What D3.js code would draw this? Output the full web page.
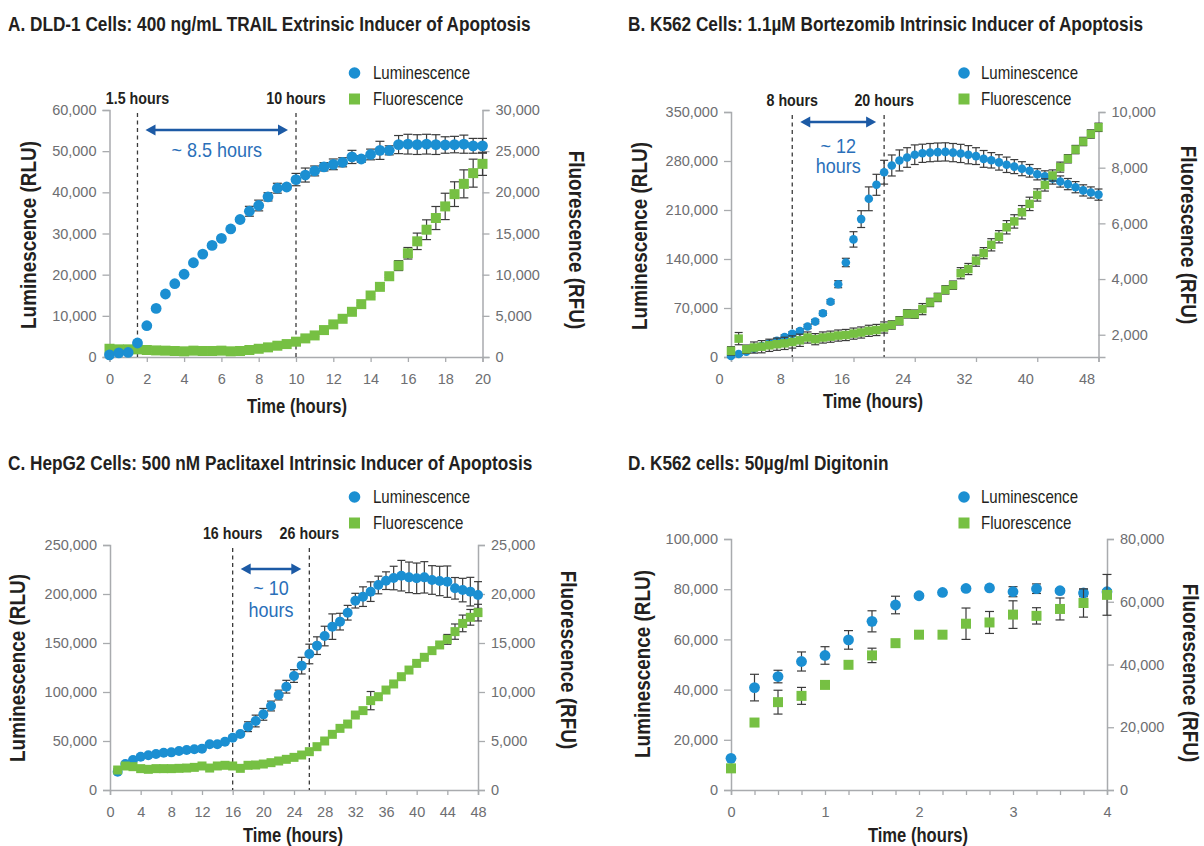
<!DOCTYPE html>
<html>
<head>
<meta charset="utf-8">
<script src="https://cdn.jsdelivr.net/npm/d3@7"></script>
<style>
  body { margin: 0; background: #fff; }
</style>
</head>
<body>
<svg id="chart" width="1204" height="846"></svg>
<script>
// ---------- Panel A: DLD-1 + TRAIL ----------
const titleA = "A. DLD-1 Cells: 400 ng/mL TRAIL Extrinsic Inducer of Apoptosis";
const timeA = [0,0.5,1,1.5,2,2.5,3,3.5,4,4.5,5,5.5,6,6.5,7,7.5,8,8.5,9,9.5,10,10.5,11,11.5,12,12.5,13,13.5,14,14.5,15,15.5,16,16.5,17,17.5,18,18.5,19,19.5,20];
const lumA = [500,1000,1100,3400,7600,11800,15300,17800,20100,22900,25000,27100,28800,31100,33400,35400,36800,38900,41000,41300,43100,44200,45200,46200,46800,47300,48600,48100,49200,50200,50200,51600,51700,51600,51700,51600,51500,51600,51700,51300,51300];
const lumErrA = [300,300,300,400,300,300,300,300,300,300,300,300,300,300,400,1200,1300,1000,1200,600,1500,1700,1200,1000,1300,1100,1600,800,1300,2200,1100,2200,2400,2400,2400,2400,2000,2000,2200,1800,1800];
const fluA = [1000,930,930,930,850,800,770,730,690,770,730,730,770,690,730,850,1000,1170,1370,1570,1860,2260,2620,3270,3960,4640,5490,6420,7470,8520,9810,11100,12600,14050,15460,16880,18290,19780,21030,22330,23460];
const fluErrA = [150,150,150,150,150,150,150,150,150,150,150,150,150,150,150,150,150,150,150,150,150,150,150,150,150,150,150,150,150,150,150,600,700,1000,1200,1400,1600,1500,1700,1700,1400];
const xTicksA = [0,2,4,6,8,10,12,14,16,18,20];
const lumTicksA = [0,10000,20000,30000,40000,50000,60000];
const fluTicksA = [0,5000,10000,15000,20000,25000,30000];
const markHoursA = [1.5,10];
const markLabelsA = ["1.5 hours","10 hours"];
const spanTextA = ["~ 8.5 hours"];

// ---------- Panel B: K562 + Bortezomib ----------
const titleB = "B. K562 Cells: 1.1µM Bortezomib Intrinsic Inducer of Apoptosis";
const timeB = [0,1,2,3,4,5,6,7,8,9,10,11,12,13,14,15,16,17,18,19,20,21,22,23,24,25,26,27,28,29,30,31,32,33,34,35,36,37,38,39,40,41,42,43,44,45,46,47,48];
const lumB = [1400,4300,7600,12000,15800,19600,23000,28600,33000,37000,43500,50600,62600,79000,104000,135000,168000,197000,226000,246000,264000,273600,280800,285000,289000,291000,292000,292700,293000,292000,290800,289000,287000,283000,281000,278000,274600,272000,269000,266000,261000,258000,255000,250700,247000,242600,238000,235000,232000];
const lumErrB = [2000,2000,2000,3000,3000,3000,3000,3000,3000,3000,3000,3000,3000,3000,5000,6000,11000,12000,17000,15000,17000,15000,15000,14000,14000,13000,13000,13000,13000,13000,13000,13000,12000,12000,11000,11000,11000,10000,10000,9000,8000,8000,8000,8000,8000,8000,8000,8000,8000];
const fluB = [1420,1860,1480,1540,1570,1620,1660,1690,1740,1800,1900,1840,1900,1930,1970,1990,2040,2080,2140,2170,2260,2350,2500,2750,2740,2920,3160,3340,3610,3780,4210,4360,4660,4930,5230,5520,5860,6070,6400,6700,7020,7380,7720,8020,8320,8650,8940,9210,9450];
const fluErrB = [150,220,150,200,220,220,220,220,220,220,200,200,200,200,200,200,200,200,200,200,200,150,150,150,150,200,150,150,150,150,200,200,200,200,220,220,240,240,240,240,220,220,200,180,150,150,150,150,150];
const xTicksB = [0,8,16,24,32,40,48];
const lumTicksB = [0,70000,140000,210000,280000,350000];
const fluTicksB = [2000,4000,6000,8000,10000];
const markHoursB = [8,20];
const markLabelsB = ["8 hours","20 hours"];
const spanTextB = ["~ 12","hours"];

// ---------- Panel C: HepG2 + Paclitaxel ----------
const titleC = "C. HepG2 Cells: 500 nM Paclitaxel Intrinsic Inducer of Apoptosis";
const timeC = [1,2,3,4,5,6,7,8,9,10,11,12,13,14,15,16,17,18,19,20,21,22,23,24,25,26,27,28,29,30,31,32,33,34,35,36,37,38,39,40,41,42,43,44,45,46,47,48];
const lumC = [18700,26500,30600,34000,35400,36700,38100,38400,39800,40800,41500,42200,46600,46600,49300,53400,57100,64600,70400,77200,85700,96900,105400,116300,126900,138800,147300,157100,166700,171800,180900,193200,197300,202400,209200,213600,216300,218700,217000,216000,217000,214300,213300,212600,205800,204000,202400,199000];
const lumErrC = [1500,1500,1500,1500,1500,1500,1500,1500,1500,1500,1500,1500,1500,1500,1500,1500,1500,5000,6000,6000,5000,5000,6500,6500,8500,10000,9000,10000,13000,8500,7500,7500,10000,10000,9000,9000,12000,15600,15600,15600,16000,14600,15000,16000,11000,12000,14600,13600];
const fluC = [2040,2450,2380,2180,2110,2180,2180,2180,2210,2240,2310,2450,2240,2450,2520,2450,2210,2520,2550,2650,2790,2960,3130,3330,3570,3910,4420,5000,5680,6290,6730,7650,8100,9120,9520,10200,10820,11560,12240,12920,13540,14220,14800,15370,16160,17000,17620,18100];
const fluErrC = [150,150,150,150,150,150,150,150,150,150,150,150,150,150,150,150,150,150,150,150,150,150,150,150,150,150,150,150,150,150,150,150,150,930,150,150,150,150,150,150,150,150,150,500,780,850,800,850];
const xTicksC = [0,4,8,12,16,20,24,28,32,36,40,44,48];
const lumTicksC = [0,50000,100000,150000,200000,250000];
const fluTicksC = [0,5000,10000,15000,20000,25000];
const markHoursC = [16,26];
const markLabelsC = ["16 hours","26 hours"];
const spanTextC = ["~ 10","hours"];

// ---------- Panel D: K562 + Digitonin ----------
const titleD = "D. K562 cells: 50µg/ml Digitonin";
const timeD = [0,0.25,0.5,0.75,1,1.25,1.5,1.75,2,2.25,2.5,2.75,3,3.25,3.5,3.75,4];
const lumD = [12600,40800,45200,51200,53600,59800,67200,73700,77400,78700,80300,80500,79000,80200,79400,78500,79000];
const lumErrD = [500,5300,2500,3800,3500,3700,4200,3500,800,800,800,800,2000,1900,800,1500,800];
const fluD = [6900,21500,28000,30000,33500,39900,42900,46800,49500,49500,53000,53400,55900,55500,57700,59600,62200];
const fluErrD = [500,800,3800,2700,800,800,2300,800,800,800,5000,3500,4400,2600,3500,4500,6500];
const xTicksD = [0,0.25,0.5,0.75,1,1.25,1.5,1.75,2,2.25,2.5,2.75,3,3.25,3.5,3.75,4];
const lumTicksD = [0,20000,40000,60000,80000,100000];
const fluTicksD = [0,20000,40000,60000,80000];

const legendLabels = ["Luminescence","Fluorescence"];
const axisTitles = {lum: "Luminescence (RLU)", flu: "Fluorescence (RFU)", time: "Time (hours)"};

// ---------- styling ----------
const SANS = '"Liberation Sans", Arial, Helvetica, sans-serif';
const BLUE = "#1b8fd2", GREEN = "#76c043", ARROW = "#1c5aa5", NOTE = "#2a6fb9";
const AXIS = "#a9abae", TICKTXT = "#6d6e71", DARK = "#231f20", ERR = "#3b3b3b";

const svg = d3.select("#chart");

// text squeezed horizontally (scale k) to give a condensed face from a regular font
function label(parent, str, x, y, o) {
  const rot = o.rotate ? ` rotate(${o.rotate})` : "";
  return parent.append("text")
    .attr("transform", `translate(${x},${y})${rot} scale(${o.k},1)`)
    .attr("text-anchor", o.anchor || "start")
    .attr("fill", o.fill || DARK)
    .style("font-family", SANS)
    .style("font-weight", o.bold ? "bold" : "normal")
    .style("font-size", o.size + "px")
    .text(str);
}

const panels = [
  { title: titleA, tx: 8, ty: 31, left: 109.5, right: 482.5, top: 110, bottom: 357,
    time: timeA, lum: lumA, lumErr: lumErrA, flu: fluA, fluErr: fluErrA,
    xDomain: [0,20], xTicks: xTicksA, xShift: 0,
    lumDomain: [0,60000], lumTicks: lumTicksA, fluDomain: [0,30000], fluTicks: fluTicksA,
    r: 5.4, sq: 10, cap: 9, lumOnTop: true,
    legend: {x: 354.5, y: 73, tx: 373},
    yTitleL: {x: 36, y: 235}, yTitleR: {x: 569, y: 240}, xTitle: {x: 297, y: 413},
    marks: markHoursA, markLabels: markLabelsA, span: spanTextA, arrowDy: 20, spanDy: [47] },
  { title: titleB, tx: 628, ty: 31, left: 731, right: 1098.5, top: 112, bottom: 357,
    time: timeB, lum: lumB, lumErr: lumErrB, flu: fluB, fluErr: fluErrB,
    xDomain: [0,48], xTicks: xTicksB, xShift: -12,
    lumDomain: [0,350000], lumTicks: lumTicksB, fluDomain: [1200,10000], fluTicks: fluTicksB,
    r: 4.3, sq: 8.5, cap: 8, lumOnTop: false,
    legend: {x: 964, y: 73, tx: 981},
    yTitleL: {x: 647, y: 236}, yTitleR: {x: 1181, y: 235}, xTitle: {x: 873, y: 408},
    marks: markHoursB, markLabels: markLabelsB, span: spanTextB, arrowDy: 10, spanDy: [41, 61] },
  { title: titleC, tx: 8, ty: 470, left: 110, right: 478, top: 545, bottom: 790,
    time: timeC, lum: lumC, lumErr: lumErrC, flu: fluC, fluErr: fluErrC,
    xDomain: [0,48], xTicks: xTicksC, xShift: 0,
    lumDomain: [0,250000], lumTicks: lumTicksC, fluDomain: [0,25000], fluTicks: fluTicksC,
    r: 5, sq: 9, cap: 8, lumOnTop: false,
    legend: {x: 354.5, y: 497, tx: 373},
    yTitleL: {x: 25, y: 668}, yTitleR: {x: 561, y: 660}, xTitle: {x: 293, y: 842},
    marks: markHoursC, markLabels: markLabelsC, span: spanTextC, arrowDy: 24, spanDy: [50, 72] },
  { title: titleD, tx: 628, ty: 470, left: 731, right: 1107, top: 539, bottom: 790,
    time: timeD, lum: lumD, lumErr: lumErrD, flu: fluD, fluErr: fluErrD,
    xDomain: [0,4], xTicks: xTicksD, xShift: 0,
    lumDomain: [0,100000], lumTicks: lumTicksD, fluDomain: [0,80000], fluTicks: fluTicksD,
    r: 5.4, sq: 10, cap: 9, lumOnTop: false,
    legend: {x: 964, y: 497, tx: 981},
    yTitleL: {x: 650, y: 664}, yTitleR: {x: 1183, y: 673}, xTitle: {x: 918, y: 842},
    marks: [], markLabels: [], span: [], arrowDy: 0, spanDy: [] }
];

const fmt = d3.format(",");

function styleAxis(sel) {
  sel.select(".domain").attr("stroke", AXIS).attr("stroke-width", 1.5);
  sel.selectAll(".tick line").attr("stroke", AXIS).attr("stroke-width", 1.3);
  sel.selectAll(".tick text")
    .attr("fill", TICKTXT)
    .style("font-family", SANS)
    .style("font-size", "14.5px");
}

function errorBars(g, data, xs, ys, cap) {
  const bars = g.append("g").attr("stroke", ERR).attr("stroke-width", 1.2).attr("fill", "none");
  data.filter(d => d.e > 0).forEach(d => {
    const cx = xs(d.t), y1 = ys(d.v - d.e), y2 = ys(d.v + d.e);
    bars.append("line").attr("x1", cx).attr("x2", cx).attr("y1", y1).attr("y2", y2);
    bars.append("line").attr("x1", cx - cap / 2).attr("x2", cx + cap / 2).attr("y1", y1).attr("y2", y1);
    bars.append("line").attr("x1", cx - cap / 2).attr("x2", cx + cap / 2).attr("y1", y2).attr("y2", y2);
  });
}

function drawPanel(p) {
  const g = svg.append("g");
  const x = d3.scaleLinear().domain(p.xDomain).range([p.left, p.right]);
  const yL = d3.scaleLinear().domain(p.lumDomain).range([p.bottom, p.top]);
  const yR = d3.scaleLinear().domain(p.fluDomain).range([p.bottom, p.top]);

  // panel title
  label(g, p.title, p.tx, p.ty, {k: 0.82, size: 21, bold: true});

  // axes
  const gx = g.append("g").attr("transform", `translate(0,${p.bottom})`)
    .call(d3.axisBottom(x).tickValues(p.xTicks).tickSizeOuter(0).tickSize(5).tickPadding(12)
      .tickFormat(d => Number.isInteger(d) ? d : ""));
  styleAxis(gx);
  gx.selectAll(".tick text").attr("dx", p.xShift);

  const gl = g.append("g").attr("transform", `translate(${p.left},0)`)
    .call(d3.axisLeft(yL).tickValues(p.lumTicks).tickFormat(fmt).tickSizeOuter(0).tickSize(7).tickPadding(6));
  styleAxis(gl);

  const gr = g.append("g").attr("transform", `translate(${p.right},0)`)
    .call(d3.axisRight(yR).tickValues(p.fluTicks).tickFormat(fmt).tickSizeOuter(0).tickSize(7).tickPadding(6));
  styleAxis(gr);

  // axis titles
  label(g, axisTitles.lum, p.yTitleL.x, p.yTitleL.y, {k: 0.84, size: 22.5, bold: true, anchor: "middle", rotate: -90});
  label(g, axisTitles.flu, p.yTitleR.x, p.yTitleR.y, {k: 0.84, size: 22.5, bold: true, anchor: "middle", rotate: 90});
  label(g, axisTitles.time, p.xTitle.x, p.xTitle.y, {k: 0.81, size: 20.5, bold: true, anchor: "middle"});

  // annotation: dashed time markers, labels and span arrow
  if (p.marks.length) {
    const ann = g.append("g");
    p.marks.forEach((h, i) => {
      ann.append("line").attr("x1", x(h)).attr("x2", x(h)).attr("y1", p.top + 3).attr("y2", p.bottom)
        .attr("stroke", "#3a3a3a").attr("stroke-width", 1.3).attr("stroke-dasharray", "4,3.5");
      label(ann, p.markLabels[i], x(h), p.top - 6.5, {k: 0.84, size: 17, bold: true, anchor: "middle"});
    });
    const xa = x(p.marks[0]) + 8, xb = x(p.marks[1]) - 8, ya = p.top + p.arrowDy;
    const head = 10, half = 5.5;
    ann.append("line").attr("x1", xa + head - 1).attr("x2", xb - head + 1).attr("y1", ya).attr("y2", ya)
      .attr("stroke", ARROW).attr("stroke-width", 2.6);
    ann.append("path").attr("d", `M${xa},${ya}L${xa + head},${ya - half}L${xa + head},${ya + half}Z`).attr("fill", ARROW);
    ann.append("path").attr("d", `M${xb},${ya}L${xb - head},${ya - half}L${xb - head},${ya + half}Z`).attr("fill", ARROW);
    const cx = (x(p.marks[0]) + x(p.marks[1])) / 2;
    p.span.forEach((s, i) => {
      label(ann, s, cx, p.top + p.spanDy[i], {k: 0.9, size: 20, anchor: "middle", fill: NOTE});
    });
  }

  // series
  const lumData = p.time.map((t, i) => ({t, v: p.lum[i], e: p.lumErr[i]}));
  const fluData = p.time.map((t, i) => ({t, v: p.flu[i], e: p.fluErr[i]}));

  const drawLum = () => {
    errorBars(g, lumData, x, yL, p.cap);
    g.append("g").selectAll("circle").data(lumData).join("circle")
      .attr("cx", d => x(d.t)).attr("cy", d => yL(d.v)).attr("r", p.r).attr("fill", BLUE);
  };
  const drawFlu = () => {
    errorBars(g, fluData, x, yR, p.cap);
    g.append("g").selectAll("rect").data(fluData).join("rect")
      .attr("x", d => x(d.t) - p.sq / 2).attr("y", d => yR(d.v) - p.sq / 2)
      .attr("width", p.sq).attr("height", p.sq).attr("fill", GREEN);
  };
  if (p.lumOnTop) { drawFlu(); drawLum(); } else { drawLum(); drawFlu(); }

  // legend
  const lg = g.append("g");
  lg.append("circle").attr("cx", p.legend.x).attr("cy", p.legend.y).attr("r", 5.8).attr("fill", BLUE);
  lg.append("rect").attr("x", p.legend.x - 5.5).attr("y", p.legend.y + 26 - 5.5).attr("width", 11).attr("height", 11).attr("fill", GREEN);
  legendLabels.forEach((s, i) => {
    label(lg, s, p.legend.tx, p.legend.y + 26 * i + 6.2, {k: 0.86, size: 17.5});
  });
}

panels.forEach(drawPanel);
</script>
</body>
</html>
